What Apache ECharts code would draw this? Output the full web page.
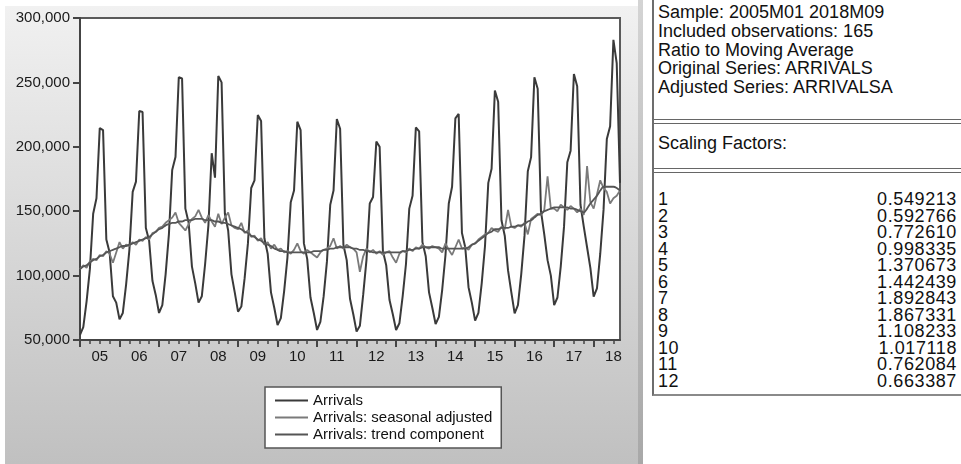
<!DOCTYPE html>
<html lang="en">
<head>
    <meta charset="UTF-8">
    <meta name="viewport" content="width=device-width, initial-scale=1.0">
    <title>Arrivals - Ratio to Moving Average</title>
    <script src="https://cdn.jsdelivr.net/npm/echarts@6.0.0/dist/echarts.min.js"></script>
    <style>
        body { margin: 0; width: 961px; height: 464px; position: relative; overflow: hidden; background: #fff;
               font-family: 'Liberation Sans', Arial, sans-serif; }
        #main { position: absolute; left: 5px; top: 6px; width: 633px; height: 458px;
                background: linear-gradient(to bottom, #f1f1f1, #c0c0c0); }
        #splitter { position: absolute; left: 638px; top: 0; width: 5px; height: 464px;
                    background: linear-gradient(to bottom, #d4d4d4, #a8a8a8); }
        #table { position: absolute; left: 652px; top: 0; width: 309px; height: 394px;
                 border-left: 2px solid #6d6d6d; border-bottom: 2px solid #8a8a8a; color: #111; }
        .head { position: absolute; left: 4px; font-size: 18px; line-height: 18.8px; white-space: nowrap; }
        .rule { position: absolute; left: 0; right: 0; height: 3px;
                border-top: 1.5px solid #666; border-bottom: 1.5px solid #666; }
        .row { position: absolute; left: 4px; right: 6px; height: 16.5px; line-height: 16.5px;
               font-size: 18px; letter-spacing: 0.6px; }
        .row span { position: absolute; right: 0; }
    </style>
</head>
<body>
    <div id="main"></div>
    <div id="splitter"></div>
    <div id="table"></div>
    <script type="text/javascript">

        // monthly data 2005M01 - 2018M09
        const yearLabels = ['05', '06', '07', '08', '09', '10', '11', '12', '13', '14', '15', '16', '17', '18'];

        const arrivals = [
            54000, 60000, 80000, 105000, 148000, 160000, 214500, 213000, 128000, 118000, 84000, 79000,
            66000, 71000, 93000, 120000, 165000, 173000, 227800, 227000, 137000, 127000, 96000, 85000,
            71000, 77000, 101000, 132000, 182000, 192000, 254000, 253000, 152000, 141000, 107000, 94000,
            79000, 84000, 109000, 139000, 195000, 176000, 255000, 250000, 148000, 135000, 101000, 87000,
            72000, 76000, 98000, 125000, 168000, 174000, 224700, 220000, 129000, 117000, 87000, 75000,
            61600, 67000, 88000, 114000, 157000, 166000, 219500, 213000, 125000, 113000, 83000, 71000,
            57800, 64000, 84000, 111000, 155000, 166000, 221600, 214000, 124000, 112000, 82000, 70000,
            56500, 61000, 85000, 112000, 156000, 161000, 204000, 200000, 119000, 108000, 81000, 70000,
            57800, 63000, 84000, 109000, 152000, 162000, 215000, 212000, 126000, 115000, 87000, 75000,
            62400, 68000, 89000, 116000, 156000, 169000, 222000, 225500, 133000, 122000, 91000, 79000,
            65000, 71000, 94000, 123000, 172000, 183000, 243600, 235000, 143000, 131000, 104000, 87000,
            70700, 77000, 101000, 131000, 181000, 192000, 254000, 245000, 150000, 132000, 112000, 100000,
            77000, 83000, 107000, 138000, 188000, 197000, 256500, 247000, 155000, 138000, 122000, 106000,
            83600, 90000, 117000, 151000, 206000, 216000, 283000, 265000, 172000
        ];

        const seasonalAdjusted = [
            105000, 108000, 106000, 111000, 113000, 112000, 116000, 115000, 119000, 117000, 110000, 118000,
            126000, 121000, 124000, 123000, 126000, 124000, 128000, 127000, 130000, 128000, 133000, 134000,
            137000, 138000, 141000, 143000, 145000, 149000, 141000, 138000, 135000, 140000, 144000, 146000,
            151000, 145000, 141000, 147000, 142000, 138000, 148000, 140000, 145000, 149000, 139000, 137000,
            136000, 141000, 133000, 135000, 130000, 131000, 127000, 129000, 124000, 126000, 121000, 124000,
            120000, 121000, 118000, 119000, 117000, 120000, 125000, 119000, 117000, 120000, 118000, 116000,
            114000, 118000, 120000, 121000, 123000, 129000, 121000, 123000, 121000, 124000, 122000, 121000,
            118000, 103000, 115000, 121000, 118000, 120000, 117000, 119000, 116000, 118000, 119000, 114000,
            110000, 117000, 119000, 118000, 121000, 119000, 122000, 121000, 124000, 122000, 121000, 123000,
            122000, 121000, 118000, 125000, 120000, 116000, 122000, 128000, 121000, 122000, 120000, 124000,
            125000, 128000, 130000, 132000, 133000, 137000, 135000, 134000, 138000, 136000, 151000, 138000,
            137000, 139000, 138000, 141000, 132000, 144000, 146000, 148000, 147000, 151000, 177000, 152000,
            152000, 150000, 155000, 153000, 151000, 154000, 152000, 149000, 152000, 147000, 185000, 157000,
            152000, 163000, 174000, 168000, 165000, 156000, 160000, 162000, 166000
        ];

        const trend = [
            105000, 107000, 108000, 110000, 112000, 113000, 115000, 116000, 118000, 119000, 120000, 121000,
            122000, 123000, 123000, 124000, 125000, 126000, 127000, 128000, 129000, 130000, 132000, 134000,
            136000, 137000, 139000, 140000, 141000, 141000, 142000, 142000, 143000, 143000, 143000, 144000,
            144000, 144000, 143000, 143000, 143000, 142000, 142000, 141000, 141000, 140000, 139000, 138000,
            137000, 136000, 134000, 133000, 131000, 130000, 128000, 127000, 125000, 124000, 123000, 121000,
            120000, 119000, 119000, 118000, 118000, 118000, 118000, 118000, 118000, 118000, 118000, 119000,
            119000, 119000, 120000, 120000, 121000, 121000, 122000, 122000, 122000, 122000, 122000, 121000,
            121000, 120000, 120000, 119000, 119000, 118000, 118000, 118000, 118000, 118000, 118000, 118000,
            118000, 118000, 119000, 119000, 120000, 120000, 121000, 121000, 122000, 122000, 122000, 122000,
            122000, 122000, 121000, 121000, 121000, 121000, 121000, 121000, 121000, 121000, 122000, 124000,
            125000, 127000, 129000, 131000, 133000, 134000, 136000, 136000, 137000, 137000, 137000, 138000,
            138000, 139000, 139000, 140000, 142000, 143000, 145000, 147000, 148000, 150000, 151000, 152000,
            153000, 153000, 153000, 153000, 153000, 152000, 152000, 151000, 150000, 149000, 152000, 156000,
            159000, 162000, 166000, 169000, 169000, 169000, 169000, 168000, 166000
        ];

        const seriesNames = ['Arrivals', 'Arrivals: seasonal adjusted', 'Arrivals: trend component'];

        // output table on the right
        const headerLines = [
            'Sample: 2005M01 2018M09',
            'Included observations: 165',
            'Ratio to Moving Average',
            'Original Series: ARRIVALS',
            'Adjusted Series: ARRIVALSA'
        ];
        const scalingMonths = [1, 2, 3, 4, 5, 6, 7, 8, 9, 10, 11, 12];
        const scalingFactors = [0.549213, 0.592766, 0.772610, 0.998335, 1.370673, 1.442439,
                                1.892843, 1.867331, 1.108233, 1.017118, 0.762084, 0.663387];

        // build the table
        const table = document.getElementById('table');
        let html = '<div class="head" style="top:3px">' + headerLines.join('<br>') + '</div>';
        html += '<div class="rule" style="top:119px"></div>';
        html += '<div class="head" style="top:134px">Scaling Factors:</div>';
        html += '<div class="rule" style="top:168px"></div>';
        scalingMonths.forEach((m, i) => {
            const top = 191 + i * 16.5;
            html += '<div class="row" style="top:' + top + 'px">' + m +
                '<span>' + scalingFactors[i].toFixed(6) + '</span></div>';
        });
        table.innerHTML = html;

        // month categories
        const months = [];
        for (let i = 0; i < arrivals.length; i++) {
            const y = 2005 + Math.floor(i / 12);
            const m = (i % 12) + 1;
            months.push(y + 'M' + (m < 10 ? '0' + m : m));
        }

        const myChart = echarts.init(document.getElementById('main'));

        const axisColor = '#444';
        const font = "'Liberation Sans', Arial, sans-serif";

        const option = {
            animation: false,
            textStyle: { fontFamily: font },
            grid: {
                left: 75, top: 12, right: 18, bottom: 124,
                show: true, backgroundColor: '#fff', borderColor: '#5a5a5a', borderWidth: 2
            },
            legend: {
                data: seriesNames,
                orient: 'vertical',
                left: 260, top: 381,
                icon: 'rect',
                itemWidth: 33, itemHeight: 2, itemGap: 2,
                padding: [6, 9, 6, 10],
                backgroundColor: '#fff',
                borderColor: '#555', borderWidth: 1.5, borderRadius: 0,
                textStyle: { fontSize: 15, lineHeight: 15, color: '#111', fontFamily: font }
            },
            xAxis: [{
                type: 'category',
                data: months,
                boundaryGap: false,
                axisLine: { lineStyle: { color: axisColor, width: 2 } },
                axisTick: { interval: (i) => i % 12 === 0, length: 7, lineStyle: { color: axisColor, width: 2 } },
                axisLabel: {
                    interval: (i) => i % 12 === 6,
                    formatter: (v, i) => yearLabels[Math.floor(i / 12)],
                    fontSize: 15, color: '#1a1a1a', margin: 9
                },
                splitLine: { show: false }
            }, {
                type: 'category',
                data: months,
                boundaryGap: false,
                position: 'bottom',
                axisLine: { show: false },
                axisTick: { interval: (i) => i % 3 === 0, length: 4, lineStyle: { color: axisColor, width: 1.5 } },
                axisLabel: { show: false },
                splitLine: { show: false }
            }],
            yAxis: {
                type: 'value',
                min: 50000, max: 300000, interval: 50000,
                axisLine: { show: true, lineStyle: { color: axisColor, width: 2 } },
                axisTick: { show: true, length: 7, lineStyle: { color: axisColor, width: 2 } },
                axisLabel: {
                    formatter: (v) => v.toLocaleString('en-US'),
                    fontSize: 15, color: '#1a1a1a', margin: 10
                },
                splitLine: { show: false }
            },
            series: [{
                name: seriesNames[0], type: 'line', data: arrivals, symbol: 'none',
                lineStyle: { color: '#3a3a3a', width: 2 }, itemStyle: { color: '#3a3a3a' }
            }, {
                name: seriesNames[1], type: 'line', data: seasonalAdjusted, symbol: 'none',
                lineStyle: { color: '#7a7a7a', width: 1.8 }, itemStyle: { color: '#7a7a7a' }
            }, {
                name: seriesNames[2], type: 'line', data: trend, symbol: 'none', smooth: 0.3,
                lineStyle: { color: '#555555', width: 1.8 }, itemStyle: { color: '#555555' }
            }]
        };

        myChart.setOption(option);
    </script>
</body>
</html>
